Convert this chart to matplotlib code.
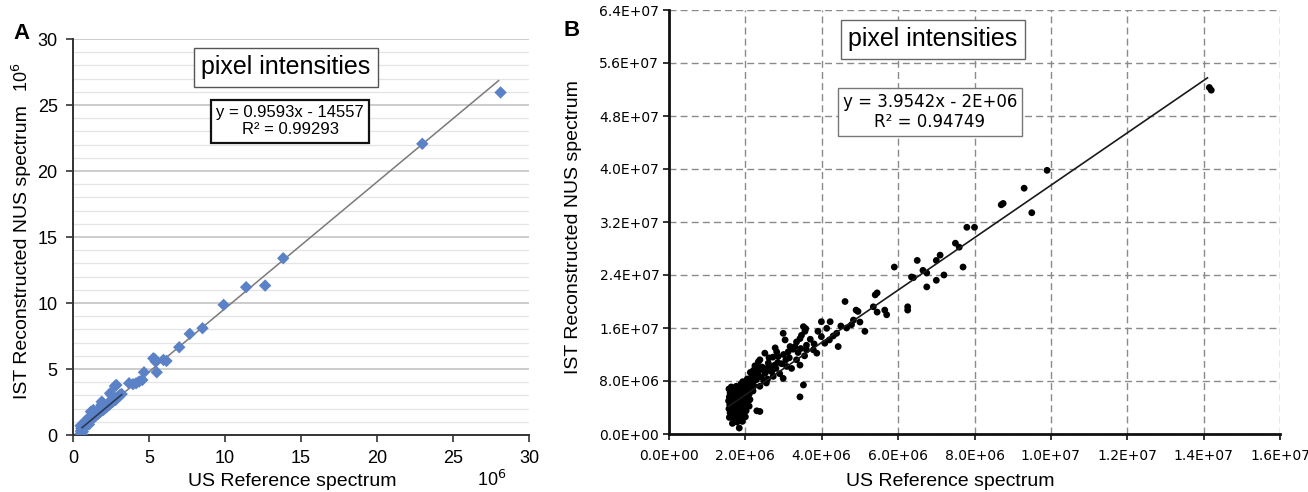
import numpy as np
import matplotlib
matplotlib.use("Agg")
from matplotlib import pyplot as plt
from matplotlib.ticker import MultipleLocator, FuncFormatter

# ---- panel A data (units of 10^6)
us_a = [28.13, 22.98, 13.83, 12.64, 11.39, 9.91, 8.52, 7.68, 6.99, 6.15,
        5.95, 5.28, 5.38, 5.44, 5.51, 4.67, 4.56, 4.35, 4.15, 3.95,
        3.69, 2.85, 2.76, 2.44, 2.55, 1.87, 1.98, 1.18, 1.34, 1.89,
        0.50, 0.52, 0.55, 0.50, 0.60, 0.62, 0.65, 0.70, 0.72, 0.75,
        0.80, 0.82, 0.88, 0.90, 0.95, 1.00, 1.05, 1.10, 1.15, 1.22,
        1.25, 1.30, 1.38, 1.45, 1.50, 1.58, 1.65, 1.72, 1.80, 1.90,
        2.00, 2.10, 2.20, 2.30, 2.40, 2.50, 2.60, 2.70, 2.80, 2.90,
        3.00, 3.10, 3.20, 1.05, 0.65, 0.58]
ist_a = [25.95, 22.06, 13.39, 11.32, 11.20, 9.86, 8.09, 7.66, 6.65, 5.61,
         5.69, 5.81, 5.75, 5.56, 4.75, 4.75, 4.17, 4.05, 3.92, 3.85,
         3.92, 3.79, 3.70, 3.16, 3.00, 2.27, 2.40, 1.77, 1.89, 2.52,
         0.10, 0.30, 0.50, 0.70, 0.45, 0.75, 0.60, 0.85, 0.55, 0.95,
         0.75, 1.05, 0.85, 1.15, 0.95, 1.25, 1.00, 1.35, 1.10, 1.45,
         1.20, 1.55, 1.35, 1.65, 1.45, 1.80, 1.60, 1.95, 1.75, 2.05,
         1.90, 2.20, 2.10, 2.40, 2.30, 2.55, 2.50, 2.75, 2.65, 2.85,
         2.90, 3.05, 3.10, 0.80, 0.25, 0.05]
fit_a_x = [0.5, 28.0]
slope_a, icpt_a = 0.9593, -14557 / 1e6

# ---- panel B data (units of 10^6)
us_b = [1.58, 1.60, 1.57, 1.59, 1.56, 1.58, 1.60, 1.57,
        1.64, 1.66, 1.63, 1.65, 1.62, 1.66, 1.64, 1.63,
        1.70, 1.72, 1.70, 1.73, 1.71, 1.69, 1.72, 1.70,
        1.78, 1.77, 1.79, 1.76, 1.78, 1.80, 1.77, 1.79, 1.76,
        1.84, 1.85, 1.86, 1.84, 1.87, 1.85, 1.83, 1.86, 1.88,
        1.92, 1.94, 1.91, 1.93, 1.95, 1.92, 1.94, 1.96, 1.93,
        2.00, 2.02, 2.00, 2.03, 2.01, 2.04, 2.02, 2.05,
        2.10, 2.12, 2.10, 2.14, 2.12, 2.15, 2.13,
        2.20, 2.22, 2.20, 2.24, 2.21, 2.25,
        2.30, 2.38, 2.29, 2.32, 2.30, 2.34, 2.38, 2.38, 2.42, 2.45,
        2.51, 2.55, 2.52, 2.60, 2.58, 2.62, 2.64,
        2.69, 2.73, 2.77, 2.72, 2.82, 2.86, 2.80, 2.85, 2.78,
        2.90, 2.99, 2.95, 2.99, 3.04, 3.00, 3.06,
        3.08, 3.12, 3.17, 3.15, 3.21, 3.25,
        3.30, 3.34, 3.34, 3.38, 3.43, 3.43, 3.47, 3.45,
        3.52, 3.56, 3.52, 3.43, 3.60, 3.60, 3.55, 3.58,
        3.78, 3.87, 3.70, 3.80, 3.99, 3.99, 4.08, 4.13,
        4.22, 4.39, 4.43, 4.30, 4.50, 4.65, 4.78, 4.83,
        4.61, 4.90, 4.95, 5.13, 5.00, 3.90, 4.20,
        5.35, 5.45, 5.65, 5.70, 5.45, 5.40, 5.90, 6.25, 6.25,
        6.35, 6.40, 6.50, 6.65, 6.75, 6.75, 7.00, 7.20,
        7.00, 7.10, 7.50, 7.60, 7.70, 7.80, 8.00, 8.70,
        8.75, 9.30, 9.50, 9.90, 14.15, 14.20,
        1.62, 1.68, 1.74, 1.81, 1.89, 1.97, 2.07, 2.17, 2.27, 2.35,
        2.44, 2.48, 2.56, 2.66, 1.66, 1.74, 1.82, 1.90, 1.98, 2.08]
ist_b = [2.5, 3.2, 3.8, 4.4, 5.0, 5.6, 6.2, 6.8,
         2.9, 3.6, 4.2, 4.8, 5.4, 6.0, 6.6, 7.1,
         2.2, 3.0, 3.9, 4.5, 5.1, 5.7, 6.3, 6.9,
         1.8, 2.7, 3.4, 4.1, 4.7, 5.3, 5.9, 6.5, 7.2,
         0.9, 2.3, 3.6, 4.4, 5.0, 5.6, 6.2, 6.8, 7.5,
         1.9, 2.8, 4.0, 4.8, 5.4, 6.0, 6.6, 7.3, 7.9,
         2.6, 3.5, 4.5, 5.6, 6.3, 7.0, 7.7, 8.3,
         4.2, 5.2, 6.0, 6.8, 7.6, 8.5, 9.3,
         6.5, 7.3, 8.0, 8.8, 9.6, 10.3,
         3.5, 3.4, 8.2, 9.0, 10.2, 10.9, 7.2, 11.2, 8.6, 9.8,
         12.2, 7.7, 9.2, 10.7, 8.3, 11.5, 9.6,
         9.4, 8.7, 10.4, 11.6, 12.4, 11.7, 9.9, 10.8, 13.0,
         9.1, 8.4, 10.6, 15.2, 14.2, 12.0, 11.2,
         10.2, 12.4, 13.2, 11.5, 9.9, 12.8,
         13.2, 13.9, 11.2, 12.3, 10.4, 14.4, 14.9, 12.9,
         16.2, 15.5, 7.4, 5.6, 13.4, 12.7, 11.8, 15.9,
         12.7, 12.2, 14.3, 13.6, 16.95, 14.7, 13.7, 15.95,
         16.95, 15.2, 13.2, 14.8, 16.3, 16.0, 16.5, 17.2,
         20.0, 18.7, 18.5, 15.5, 16.9, 15.5, 14.2,
         19.2, 18.4, 18.7, 18.0, 21.3, 21.0, 25.2, 19.2, 18.7,
         23.7, 23.6, 26.2, 24.7, 24.3, 22.2, 23.2, 24.0,
         26.2, 27.0, 28.8, 28.2, 25.2, 31.2, 31.2, 34.6,
         34.8, 37.1, 33.4, 39.8, 52.3, 51.9,
         4.0, 5.2, 6.1, 6.0, 5.1, 6.4, 7.1, 7.9, 8.7, 9.5,
         10.1, 8.0, 9.9, 10.2, 1.6, 3.8, 2.9, 3.2, 3.9, 5.0]
fit_b_x = [1.55e6, 14.1e6]
slope_b, icpt_b = 3.9542, -2e6

W, H = 1308, 492
fig = plt.figure(figsize=(W / 100, H / 100), dpi=100)


def box(l, r, t, b):
    return [l / W, 1 - b / H, (r - l) / W, (b - t) / H]


def ftxt(x, y, s, **kw):
    fig.text(x / W, 1 - y / H, s, ha='center', va='center', **kw)


arial = 'Liberation Sans'
dejavu = 'DejaVu Sans'

# ================= panel A
ax = fig.add_axes(box(73, 529, 39, 435))
ax.set_xlim(0, 30)
ax.set_ylim(0, 30)
ax.xaxis.set_major_locator(MultipleLocator(5))
ax.yaxis.set_major_locator(MultipleLocator(5))
for v in range(1, 31):
    ax.axhline(v, color='#c8c8c8' if v % 5 == 0 else '#e4e4e4',
               lw=1.3 if v % 5 == 0 else 0.9, zorder=0)
fx = np.array(fit_a_x)
ax.plot(fx, slope_a * fx + icpt_a, color='#7a7a7a', lw=1.1, zorder=2)
ax.scatter(us_a, ist_a, marker='D', s=40, color='#5b82c6', edgecolors='none', zorder=3)
ax.plot([0.6, 3.2], [slope_a * 0.6 + icpt_a, slope_a * 3.2 + icpt_a],
        color='#2b3a55', lw=1.2, zorder=4)
for s in ['top', 'right']:
    ax.spines[s].set_visible(False)
for s in ['left', 'bottom']:
    ax.spines[s].set_color('#333333')
    ax.spines[s].set_linewidth(1.4)
ax.tick_params(length=5, width=1.2, color='#333333', labelsize=13, pad=6)
for lab in ax.get_xticklabels() + ax.get_yticklabels():
    lab.set_fontfamily(arial)

ftxt(292, 481, 'US Reference spectrum', fontsize=14, family=arial)
ftxt(23, 252, 'IST Reconstructed NUS spectrum', fontsize=14, family=arial, rotation=90)
ftxt(492, 480, '10$^6$', fontsize=13, family=arial)
ftxt(22, 77, '10$^6$', fontsize=13, family=arial, rotation=90)
ftxt(22, 33, 'A', fontsize=16, family=arial, weight='bold')
ftxt(286, 67, 'pixel intensities', fontsize=18, family=arial,
     bbox=dict(boxstyle='square,pad=0.3', fc='white', ec='#555555', lw=1.0))
ftxt(290, 121, 'y = 0.9593x - 14557\nR² = 0.99293', fontsize=12, family=arial,
     linespacing=1.25,
     bbox=dict(boxstyle='square,pad=0.3', fc='white', ec='#111111', lw=1.6))

# ================= panel B
bx = fig.add_axes(box(669, 1280, 10, 434))
bx.set_xlim(0, 1.6e7)
bx.set_ylim(0, 6.4e7)
bx.set_xticks(np.arange(0, 1.6e7 + 1, 2e6))
bx.set_yticks(np.arange(0, 6.4e7 + 1, 8e6))
fmt = FuncFormatter(lambda v, p: '{:.1E}'.format(v))
bx.xaxis.set_major_formatter(fmt)
bx.yaxis.set_major_formatter(fmt)
bx.grid(True, color='#8a8a8a', ls=(0, (5, 3)), lw=1.0)
bx.set_axisbelow(True)
xb = np.array(us_b) * 1e6
yb = np.array(ist_b) * 1e6
bx.scatter(xb, yb, marker='o', s=24, color='black', edgecolors='none', zorder=3)
fxb = np.array(fit_b_x)
bx.plot(fxb, slope_b * fxb + icpt_b, color='#1a1a1a', lw=1.2, zorder=4)
for s in ['top', 'right']:
    bx.spines[s].set_visible(False)
for s in ['left', 'bottom']:
    bx.spines[s].set_color('#111111')
    bx.spines[s].set_linewidth(2.0)
bx.tick_params(length=4, width=1.2, labelsize=10, color='#111111')
bx.tick_params(axis='x', pad=7)
bx.tick_params(axis='y', pad=3)
for lab in bx.get_xticklabels() + bx.get_yticklabels():
    lab.set_fontfamily(dejavu)

ftxt(950, 481, 'US Reference spectrum', fontsize=14, family=arial)
ftxt(574, 227, 'IST Reconstructed NUS spectrum', fontsize=14, family=arial, rotation=90)
ftxt(572, 30, 'B', fontsize=16, family=arial, weight='bold')
ftxt(933, 39, 'pixel intensities', fontsize=18, family=arial,
     bbox=dict(boxstyle='square,pad=0.3', fc='white', ec='#666666', lw=1.0))
ftxt(930, 112, 'y = 3.9542x - 2E+06\nR² = 0.94749', fontsize=12, family=dejavu,
     linespacing=1.1,
     bbox=dict(boxstyle='square,pad=0.3', fc='white', ec='#777777', lw=1.0))

fig.savefig('out.png', dpi=100)
